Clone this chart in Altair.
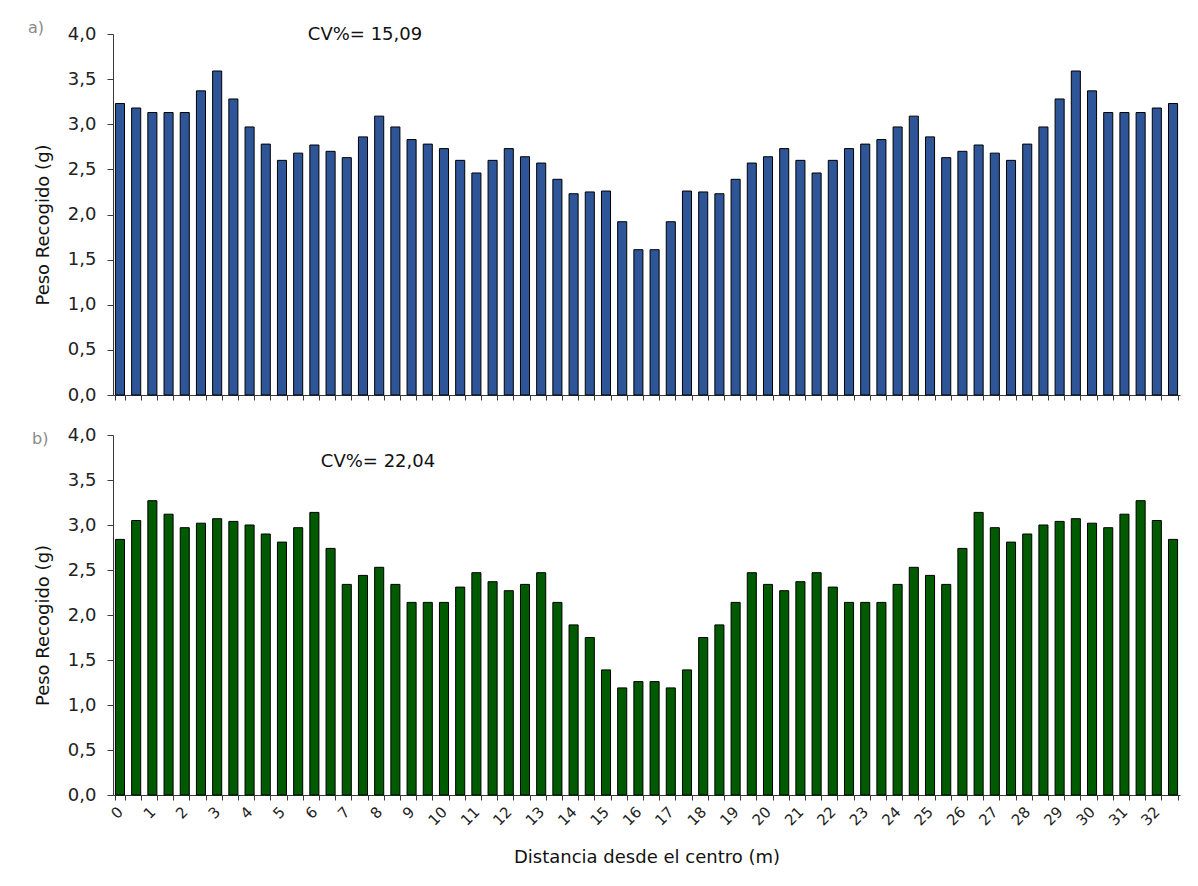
import altair as alt
import pandas as pd

# Distance categories (m), every 0.5 m; only integer ones are labelled
distancia = [i * 0.5 for i in range(66)]

peso_a = [3.23, 3.18, 3.13, 3.13, 3.13, 3.37, 3.59, 3.28, 2.97, 2.78, 2.60, 2.68, 2.77,
          2.70, 2.63, 2.86, 3.09, 2.97, 2.83, 2.78, 2.73, 2.60, 2.46, 2.60, 2.73, 2.64,
          2.57, 2.39, 2.23, 2.25, 2.26, 1.92, 1.61, 1.61, 1.92, 2.26, 2.25, 2.23, 2.39,
          2.57, 2.64, 2.73, 2.60, 2.46, 2.60, 2.73, 2.78, 2.83, 2.97, 3.09, 2.86, 2.63,
          2.70, 2.77, 2.68, 2.60, 2.78, 2.97, 3.28, 3.59, 3.37, 3.13, 3.13, 3.13, 3.18, 3.23]

peso_b = [2.84, 3.05, 3.27, 3.12, 2.97, 3.02, 3.07, 3.04, 3.00, 2.90, 2.81, 2.97, 3.14,
          2.74, 2.34, 2.44, 2.53, 2.34, 2.14, 2.14, 2.14, 2.31, 2.47, 2.37, 2.27, 2.34,
          2.47, 2.14, 1.89, 1.75, 1.39, 1.19, 1.26, 1.26, 1.19, 1.39, 1.75, 1.89, 2.14,
          2.47, 2.34, 2.27, 2.37, 2.47, 2.31, 2.14, 2.14, 2.14, 2.34, 2.53, 2.44, 2.34,
          2.74, 3.14, 2.97, 2.81, 2.90, 3.00, 3.04, 3.07, 3.02, 2.97, 3.12, 3.27, 3.05, 2.84]

y_ticks = [0, 0.5, 1.0, 1.5, 2.0, 2.5, 3.0, 3.5, 4.0]
cv_a = "CV%= 15,09"
cv_b = "CV%= 22,04"

FONT = "DejaVu Sans"
AXIS_COLOR = "#3a3a3a"


def panel(values, color, cv_text, letter, show_labels, height,
          cv_x, cv_y, letter_x, letter_y):
    df = pd.DataFrame({"d": distancia, "peso": values})
    if show_labels:
        x_axis = alt.Axis(
            title="Distancia desde el centro (m)",
            labelExpr="datum.value % 1 == 0 ? format(datum.value, 'd') : ''",
            labelAngle=315, labelAlign="right", labelBaseline="middle",
            labelPadding=9, labelFontSize=15, labelColor="#222", labelFont=FONT,
            tickBand="extent", tickSize=5, tickColor=AXIS_COLOR,
            domainColor=AXIS_COLOR, titleFontSize=18, titleFontWeight="normal",
            titlePadding=20, titleColor="#111", titleFont=FONT)
    else:
        x_axis = alt.Axis(
            title=None, labels=False, tickBand="extent", tickSize=5,
            tickColor=AXIS_COLOR, domainColor=AXIS_COLOR)
    y_axis = alt.Axis(
        title="Peso Recogido (g)", values=y_ticks,
        labelExpr="replace(format(datum.value, '.1f'), '.', ',')",
        labelFontSize=18, labelColor="#222", labelPadding=11, labelFont=FONT,
        tickSize=6, tickColor=AXIS_COLOR, domainColor=AXIS_COLOR,
        grid=False, titleFontSize=18, titleFontWeight="normal", titleColor="#111",
        titleFont=FONT, titleX=-61, titleY=height / 2 + 10)
    bars = alt.Chart(df).mark_bar(color=color, stroke="black", strokeWidth=1).encode(
        x=alt.X("d:O", axis=x_axis, sort=None,
                scale=alt.Scale(paddingInner=0.44, paddingOuter=0.15)),
        y=alt.Y("peso:Q", axis=y_axis, scale=alt.Scale(domain=[0, 4], nice=False)),
    )
    cv = alt.Chart(pd.DataFrame({"t": [cv_text]})).mark_text(
        font=FONT, fontSize=18, color="#111", align="center", baseline="middle"
    ).encode(text="t:N", x=alt.value(cv_x), y=alt.value(cv_y))
    lab = alt.Chart(pd.DataFrame({"t": [letter]})).mark_text(
        font=FONT, fontSize=16, color="#8a8a8a", align="left", baseline="middle"
    ).encode(text="t:N", x=alt.value(letter_x), y=alt.value(letter_y))
    return alt.layer(bars, cv, lab).properties(width=1067, height=height)


top = panel(peso_a, "#2E5597", cv_a, "a)", False, 361, 252, 1, -85, -6)
bottom = panel(peso_b, "#005A00", cv_b, "b)", True, 360, 265, 27, -81, 4)

chart = alt.vconcat(top, bottom, spacing=22).properties(
    padding={"left": 28, "top": 20, "right": 5, "bottom": 5},
    background="white",
).configure_view(strokeWidth=0, stroke="transparent")

chart.save("out.html", embed_options={"renderer": "svg", "actions": False})
